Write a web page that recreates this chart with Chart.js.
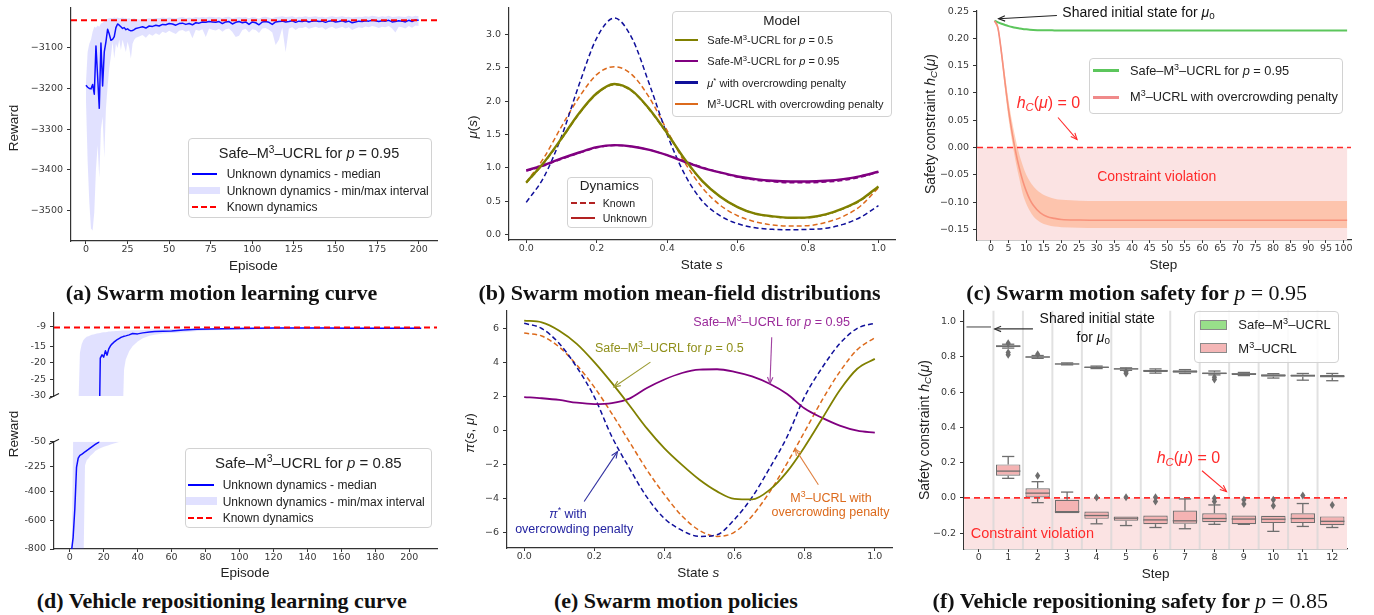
<!DOCTYPE html>
<html>
<head>
<meta charset="utf-8">
<script src="https://cdn.jsdelivr.net/npm/chart.js@4.4.1/dist/chart.umd.min.js"></script>
<style>
body { margin: 0; width: 1374px; height: 615px; background: #fff; position: relative; overflow: hidden; }
canvas { position: absolute; }
.t { position: absolute; white-space: nowrap; line-height: 1; font-family: 'Liberation Sans', Arial, sans-serif; color: #222; }
.t sup { font-size: 70%; line-height: 0; vertical-align: 0.5em; }
.t sub { font-size: 70%; line-height: 0; vertical-align: -0.25em; }
.cap { font-family: 'Liberation Serif', 'Times New Roman', serif; font-weight: bold; color: #111; }
.cap i { font-weight: normal; }
.box { position: absolute; border: 1px solid #d2d2d2; border-radius: 4px; background: rgba(255,255,255,0.85); box-sizing: border-box; }
.sw { position: absolute; }
</style>
</head>
<body>
<script>
// ---------- (a) swarm motion learning curve ----------
const episodesA = [0,1,2,3,4,5,6,7,8,9,10,11,12,13,14,15,16,17,18,19,20,21,22,23,24,25,26,27,28,29,30,
  32,34,36,38,40,42,44,46,48,50,52,54,56,58,60,62,64,66,68,70,72,74,76,78,80,82,84,86,88,90,92,94,96,98,100,
  102,104,106,108,110,112,114,116,118,120,122,124,126,128,130,132,134,136,138,140,142,144,146,148,150,
  152,154,156,158,160,162,164,166,168,170,172,174,176,178,180,182,184,186,188,190,192,194,196,198,200];
const medianA = [-3192,-3197,-3200,-3201,-3190,-3214,-3095,-3170,-3249,-3088,-3194,-3110,-3085,-3054,-3066,-3081,-3079,-3072,-3050,-3041,-3044,-3048,-3052,-3050,-3055,-3053,-3056,-3058,-3057,-3055,-3052,
  -3050,-3048,-3051,-3046,-3047,-3044,-3046,-3042,-3043,-3040,-3041,-3044,-3040,-3039,-3042,-3040,-3043,-3038,-3039,-3036,
  -3037,-3035,-3036,-3037,-3035,-3040,-3036,-3035,-3041,-3037,-3035,-3038,-3036,-3042,-3036,-3038,-3043,-3036,-3035,-3037,
  -3042,-3036,-3035,-3034,-3036,-3035,-3033,-3037,-3034,-3035,-3033,-3036,-3034,-3033,-3035,-3034,-3037,-3034,-3033,-3036,
  -3035,-3033,-3036,-3034,-3038,-3036,-3034,-3035,-3033,-3034,-3032,-3033,-3035,-3033,-3034,-3032,-3036,-3035,-3033,-3034,
  -3036,-3032,-3035,-3031,-3032];
const maxA = [-3185,-3110,-3090,-3080,-3060,-3048,-3050,-3045,-3048,-3040,-3038,-3034,-3030,-3028,-3027,-3026,-3027,-3025,-3026,-3025,-3027,-3026,-3025,-3027,-3026,-3028,-3027,-3029,-3028,-3027,-3029,
  -3030,-3028,-3029,-3027,-3028,-3026,-3027,-3025,-3026,-3025,-3026,-3027,-3025,-3024,-3026,-3025,-3026,-3024,-3025,-3024,
  -3025,-3023,-3024,-3025,-3024,-3026,-3024,-3023,-3027,-3025,-3024,-3025,-3024,-3027,-3024,-3025,-3028,-3024,-3023,-3025,
  -3027,-3024,-3023,-3022,-3024,-3023,-3022,-3025,-3023,-3024,-3022,-3024,-3023,-3022,-3024,-3023,-3025,-3023,-3022,-3024,
  -3023,-3022,-3024,-3023,-3025,-3024,-3023,-3024,-3022,-3023,-3021,-3022,-3024,-3022,-3023,-3021,-3024,-3023,-3022,-3023,
  -3024,-3021,-3023,-3021,-3022];
const minA = [-3230,-3380,-3480,-3545,-3550,-3505,-3400,-3340,-3420,-3300,-3270,-3370,-3250,-3196,-3150,-3120,-3085,-3126,-3090,-3100,-3080,-3105,-3080,-3095,-3110,-3085,-3100,-3126,-3090,-3080,-3075,
  -3072,-3068,-3075,-3066,-3070,-3064,-3068,-3060,-3063,-3058,-3062,-3066,-3058,-3056,-3060,-3057,-3076,-3055,-3058,-3054,
  -3073,-3052,-3055,-3057,-3053,-3060,-3054,-3052,-3061,-3073,-3070,-3056,-3053,-3062,-3054,-3056,-3063,-3052,-3051,-3055,
  -3062,-3093,-3080,-3050,-3110,-3052,-3049,-3056,-3050,-3051,-3048,-3053,-3050,-3048,-3051,-3049,-3055,-3050,-3048,-3053,
  -3051,-3048,-3052,-3049,-3056,-3052,-3049,-3051,-3047,-3049,-3046,-3048,-3051,-3048,-3049,-3046,-3052,-3062,-3048,-3049,
  -3052,-3046,-3050,-3045,-3046];
const knownA = -3032;
const ticksAX = [0,25,50,75,100,125,150,175,200];
const ticksAY = [-3500,-3400,-3300,-3200,-3100];

// ---------- (b) mean-field distributions ----------
const statesB = [0,0.05,0.1,0.15,0.2,0.25,0.3,0.35,0.4,0.45,0.5,0.55,0.6,0.65,0.7,0.75,0.8,0.85,0.9,0.95,1];
const safe05UnknownB = [0.78,1.08,1.44,1.82,2.12,2.26,2.16,1.88,1.52,1.13,0.80,0.57,0.41,0.31,0.27,0.25,0.255,0.30,0.39,0.52,0.72];
const safe05KnownB   = [0.77,1.07,1.43,1.81,2.11,2.25,2.15,1.87,1.51,1.12,0.80,0.57,0.41,0.31,0.265,0.245,0.25,0.295,0.385,0.51,0.71];
const safe095UnknownB = [0.96,1.04,1.14,1.23,1.31,1.34,1.32,1.27,1.19,1.09,1.00,0.93,0.87,0.83,0.805,0.795,0.795,0.805,0.83,0.875,0.94];
const safe095KnownB   = [0.95,1.03,1.13,1.22,1.30,1.335,1.32,1.27,1.19,1.10,1.01,0.93,0.86,0.815,0.79,0.775,0.775,0.785,0.81,0.86,0.935];
const muStarB = [0.48,0.86,1.47,2.25,2.95,3.25,2.95,2.25,1.50,0.90,0.50,0.28,0.16,0.10,0.075,0.068,0.075,0.09,0.15,0.26,0.43];
const m3ucrlB = [0.78,1.15,1.62,2.06,2.40,2.52,2.40,2.05,1.56,1.08,0.70,0.44,0.28,0.19,0.14,0.125,0.13,0.18,0.27,0.43,0.70];
const ticksBX = [0,0.2,0.4,0.6,0.8,1.0];
const ticksBY = [0,0.5,1.0,1.5,2.0,2.5,3.0];

// ---------- (c) swarm motion safety ----------
const stepsC = [1,2,3,4,5,6,7,8,9,10,11,12,14,16,18,20,25,30,40,60,80,101];
const safeC = [0.2325,0.2295,0.2268,0.2245,0.2225,0.2208,0.2194,0.2183,0.2173,0.2166,0.216,0.2156,0.215,0.2148,0.2147,0.2146,0.2145,0.2145,0.2145,0.2145,0.2145,0.2145];
const m3C = [0.232,0.218,0.172,0.118,0.068,0.027,-0.008,-0.037,-0.061,-0.080,-0.095,-0.106,-0.120,-0.127,-0.130,-0.132,-0.133,-0.1335,-0.1335,-0.1335,-0.1335,-0.1335];
const m3HiC = [0.233,0.224,0.182,0.132,0.085,0.047,0.015,-0.012,-0.033,-0.050,-0.062,-0.071,-0.083,-0.090,-0.094,-0.096,-0.0975,-0.098,-0.098,-0.098,-0.098,-0.098];
const m3LoC = [0.231,0.212,0.162,0.104,0.052,0.010,-0.026,-0.056,-0.085,-0.103,-0.116,-0.126,-0.137,-0.142,-0.145,-0.146,-0.147,-0.1475,-0.1475,-0.1475,-0.1475,-0.1475];
const ticksCX = [0,5,10,15,20,25,30,35,40,45,50,55,60,65,70,75,80,85,90,95,100];
const ticksCY = [-0.15,-0.10,-0.05,0,0.05,0.10,0.15,0.20,0.25];

// ---------- (d) vehicle repositioning learning curve ----------
const episodesD = [0,1,2,3,4,5,6,7,8,9,10,11,12,13,14,15,16,17,18,19,20,21,22,23,24,25,26,27,28,
  30,31,32,33,35,37,40,43,47,50,55,60,67,75,83,90,100,110,120,135,150,165,180,195,207];
const medianD = [-1000,-820,-720,-520,-230,-165,-145,-138,-130,-120,-112,-104,-95,-86,-77,-69,-61,-54,-18.6,-17.6,-18.3,-16.4,-17.7,-15.8,-14.9,-14.3,-13.8,-13.4,-13.0,
  -12.4,-12.2,-12.0,-11.9,-11.6,-11.2,-11.3,-11.0,-10.7,-10.6,-10.5,-10.4,-10.1,-9.9,-9.8,-9.75,-9.65,-9.6,-9.55,-9.55,-9.55,-9.6,-9.6,-9.6,-9.6];
const maxD = [-1100,-1000,-45,-42,-38,-35,-17,-14.5,-13.2,-12.6,-12.2,-12.0,-11.8,-11.6,-11.5,-11.3,-11.2,-11.1,-11.0,-10.9,-10.8,-10.8,-10.7,-10.6,-10.6,-10.5,-10.5,-10.4,-10.4,
  -10.35,-10.3,-10.3,-10.3,-10.25,-10.2,-10.2,-10.1,-10.0,-10.0,-9.9,-9.85,-9.75,-9.7,-9.65,-9.6,-9.5,-9.5,-9.45,-9.45,-9.4,-9.4,-9.4,-9.4,-9.4];
const minD = [-2000,-2000,-2000,-2000,-2000,-2000,-1800,-1500,-1000,-216,-180,-168,-150,-140,-128,-115,-108,-100,-95,-90,-85,-82,-78,-75,-70,-66,-62,-58,-55,
  -48,-40,-22,-19,-16.5,-15,-13.6,-12.6,-11.9,-11.6,-11.2,-11.0,-10.8,-10.4,-10.2,-10.1,-10.0,-9.9,-9.8,-9.75,-9.7,-9.7,-9.65,-9.65,-9.6];
const knownD = -9.4;
const ticksDX = [0,20,40,60,80,100,120,140,160,180,200];
const ticksDYtop = [-30,-25,-20,-15,-9];
const ticksDYbottom = [-800,-600,-400,-225,-50];

// ---------- (e) swarm motion policies ----------
const statesE = [0,0.05,0.1,0.15,0.2,0.25,0.3,0.35,0.4,0.45,0.5,0.55,0.6,0.65,0.7,0.75,0.8,0.85,0.9,0.95,1];
const safe05E = [6.45,6.35,5.86,5.09,4.02,2.80,1.49,0.13,-1.04,-2.01,-2.88,-3.56,-4.0,-4.03,-3.47,-2.40,-0.94,0.71,2.37,3.63,4.21];
const safe095E = [1.97,1.90,1.80,1.64,1.56,1.62,1.88,2.50,3.00,3.38,3.58,3.60,3.45,3.18,2.75,2.15,1.30,0.75,0.30,0.00,-0.12];
const piStarE = [6.30,5.99,5.11,3.72,1.98,-0.35,-2.20,-3.90,-5.15,-5.85,-6.20,-6.10,-5.20,-3.90,-2.20,-0.35,2.00,3.70,5.10,6.00,6.30];
const m3ucrlE = [5.72,5.55,4.90,3.85,2.55,1.00,-0.65,-2.30,-3.75,-5.00,-5.85,-6.20,-5.95,-5.00,-3.60,-1.90,-0.05,1.80,3.45,4.75,5.45];
const ticksEX = [0,0.2,0.4,0.6,0.8,1.0];
const ticksEY = [-6,-4,-2,0,2,4,6];

// ---------- (f) vehicle repositioning safety (box plots) ----------
const stepsF = [0,1,2,3,4,5,6,7,8,9,10,11,12];
const safeLoF  = [0.970,0.850,0.792,0.755,0.734,0.724,0.708,0.706,0.698,0.694,0.680,0.668,0.665];
const safeQ1F  = [0.970,0.855,0.796,0.757,0.737,0.728,0.714,0.710,0.702,0.698,0.688,0.687,0.683];
const safeMedF = [0.970,0.861,0.799,0.760,0.741,0.732,0.721,0.717,0.707,0.704,0.695,0.694,0.690];
const safeQ3F  = [0.970,0.866,0.804,0.763,0.745,0.735,0.727,0.724,0.712,0.708,0.701,0.700,0.697];
const safeHiF  = [0.970,0.872,0.808,0.766,0.748,0.738,0.732,0.728,0.720,0.712,0.705,0.706,0.706];
const safeOutF = [[],[0.825,0.812,0.878],[0.815],[],[],[0.716,0.706],[],[],[0.684,0.672],[],[],[],[]];
const m3LoF  = [null,0.111,-0.027,-0.087,-0.147,-0.157,-0.168,-0.175,-0.150,-0.150,-0.190,-0.162,-0.168];
const m3Q1F  = [null,0.126,0.002,-0.087,-0.119,-0.130,-0.149,-0.147,-0.138,-0.149,-0.143,-0.143,-0.155];
const m3MedF = [null,0.152,0.027,-0.078,-0.100,-0.115,-0.125,-0.130,-0.117,-0.120,-0.121,-0.117,-0.133];
const m3Q3F  = [null,0.190,0.055,-0.011,-0.077,-0.105,-0.100,-0.072,-0.087,-0.100,-0.102,-0.087,-0.105];
const m3HiF  = [null,0.235,0.092,0.033,-0.077,-0.105,-0.100,-0.006,-0.040,-0.100,-0.102,-0.032,-0.105];
const m3OutF = [[],[],[0.126],[],[0.002],[0.004],[0.004,-0.02],[],[-0.002,-0.02],[-0.011,-0.034],[-0.01,-0.045],[0.013],[-0.04]];
const ticksFY = [-0.2,0,0.2,0.4,0.6,0.8,1.0];

// ---------- helpers ----------
const AX = '#333';
const TK = '#3a3a3a';
const tickFont = { family: 'DejaVu Sans', size: 9.5, lineHeight: 1 };
const uMinus = (v, d) => (v < 0 ? '\u2212' : '') + Math.abs(v).toFixed(d);

function axis(min, max, ticks, fmt, isX, extra) {
  return Object.assign({
    type: 'linear', min, max, bounds: 'data',
    afterBuildTicks: s => { s.ticks = ticks.map(v => ({ value: v })); },
    afterFit: s => { if (isX) s.height = 24; else s.width = 60; },
    grid: { drawOnChartArea: false, tickLength: isX ? 3 : 4, color: AX },
    border: { color: AX, width: 1.2 },
    ticks: { callback: fmt, autoSkip: false, maxRotation: 0, padding: isX ? 1 : 4, color: TK, font: tickFont }
  }, extra || {});
}

function pts(xs, ys) {
  return xs.map((x, i) => ({ x, y: ys[i] }));
}

function makeChart(L, T, R, B, cfg, noX) {
  const YW = 60, XH = noX ? 0 : 24, PT = 8, PR = 14, PB = noX ? 1 : 0;
  const left = Math.round(L) - YW, top = Math.round(T) - PT;
  const w = Math.round(R) - Math.round(L) + YW + PR;
  const h = Math.round(B) - Math.round(T) + PT + XH + PB;
  const c = document.createElement('canvas');
  c.width = w; c.height = h;
  c.style.left = left + 'px'; c.style.top = top + 'px';
  c.style.width = w + 'px'; c.style.height = h + 'px';
  document.body.appendChild(c);
  cfg.options = Object.assign({
    responsive: false, animation: false, devicePixelRatio: 1,
    layout: { padding: { top: PT, right: PR, left: 0, bottom: PB } },
    elements: { point: { radius: 0 }, line: { borderJoinStyle: 'round' } }
  }, cfg.options);
  cfg.options.plugins = Object.assign({ legend: { display: false }, tooltip: { enabled: false } }, cfg.options.plugins || {});
  return new Chart(c, cfg);
}

// horizontal reference line (+ optional shaded violation region)
const refLine = {
  id: 'refLine',
  beforeDatasetsDraw(chart, args, o) {
    if (!o.shade) return;
    const { ctx, chartArea: a, scales: { x, y } } = chart;
    const yv = y.getPixelForValue(o.value);
    const xe = o.shadeTo === undefined ? a.right : x.getPixelForValue(o.shadeTo);
    ctx.save();
    ctx.fillStyle = o.shade;
    ctx.fillRect(a.left, yv, xe - a.left, a.bottom - yv);
    ctx.restore();
  },
  afterDatasetsDraw(chart, args, o) {
    if (o.value === undefined) return;
    const { ctx, chartArea: a, scales: { y } } = chart;
    const yv = y.getPixelForValue(o.value);
    ctx.save();
    ctx.strokeStyle = o.color; ctx.lineWidth = o.width; ctx.setLineDash(o.dash);
    ctx.beginPath(); ctx.moveTo(a.left, yv); ctx.lineTo(a.right, yv); ctx.stroke();
    ctx.restore();
  }
};

// annotation arrows, given in data coordinates
const arrows = {
  id: 'arrows',
  afterDatasetsDraw(chart, args, o) {
    const { ctx, scales: { x, y } } = chart;
    (o.list || []).forEach(ar => {
      const x1 = x.getPixelForValue(ar.from[0]), y1 = y.getPixelForValue(ar.from[1]);
      const x2 = x.getPixelForValue(ar.to[0]), y2 = y.getPixelForValue(ar.to[1]);
      const ang = Math.atan2(y2 - y1, x2 - x1), hl = 7;
      ctx.save();
      ctx.strokeStyle = ar.color; ctx.lineWidth = 1.1;
      ctx.beginPath(); ctx.moveTo(x1, y1); ctx.lineTo(x2, y2); ctx.stroke();
      ctx.beginPath();
      ctx.moveTo(x2 - hl * Math.cos(ang - 0.4), y2 - hl * Math.sin(ang - 0.4));
      ctx.lineTo(x2, y2);
      ctx.lineTo(x2 - hl * Math.cos(ang + 0.4), y2 - hl * Math.sin(ang + 0.4));
      ctx.stroke();
      ctx.restore();
    });
  }
};

// little diagonal marks for the broken y axis
const breakMark = {
  id: 'breakMark',
  afterDraw(chart, args, o) {
    if (!o.at) return;
    const { ctx, chartArea: a } = chart;
    const yb = o.at === 'bottom' ? a.bottom : a.top;
    ctx.save();
    ctx.strokeStyle = '#222'; ctx.lineWidth = 1.2;
    ctx.beginPath(); ctx.moveTo(a.left - 5, yb + 2.5); ctx.lineTo(a.left + 5, yb - 2.5); ctx.stroke();
    ctx.restore();
  }
};

// light separators between box-plot categories
const seps = {
  id: 'seps',
  beforeDatasetsDraw(chart) {
    const { ctx, chartArea: a, scales: { x } } = chart;
    ctx.save();
    ctx.strokeStyle = 'rgba(215,215,215,0.75)'; ctx.lineWidth = 2;
    for (let i = 0; i < stepsF.length - 1; i++) {
      const px = (x.getPixelForValue(i) + x.getPixelForValue(i + 1)) / 2;
      ctx.beginPath(); ctx.moveTo(px, a.top); ctx.lineTo(px, a.bottom); ctx.stroke();
    }
    ctx.restore();
  }
};

// whiskers, medians and outliers on top of the floating bars
const EDGE = '#6e6e6e';
const boxes = {
  id: 'boxes',
  afterDatasetsDraw(chart, args, o) {
    const { ctx, scales: { x, y } } = chart;
    const bw = (x.getPixelForValue(1) - x.getPixelForValue(0)) * 0.83;
    const line = (x1, y1, x2, y2) => { ctx.beginPath(); ctx.moveTo(x1, y1); ctx.lineTo(x2, y2); ctx.stroke(); };
    ctx.save();
    ctx.strokeStyle = EDGE; ctx.fillStyle = EDGE; ctx.lineWidth = 1.3;
    o.series.forEach(s => {
      s.med.forEach((m, i) => {
        if (m === null) return;
        const cx = x.getPixelForValue(i);
        const yq1 = y.getPixelForValue(s.q1[i]), yq3 = y.getPixelForValue(s.q3[i]);
        const ylo = y.getPixelForValue(s.lo[i]), yhi = y.getPixelForValue(s.hi[i]);
        const ym = y.getPixelForValue(m);
        if (yhi < yq3) { line(cx, yq3, cx, yhi); line(cx - bw / 4, yhi, cx + bw / 4, yhi); }
        if (ylo > yq1) { line(cx, yq1, cx, ylo); line(cx - bw / 4, ylo, cx + bw / 4, ylo); }
        line(cx - bw / 2, ym, cx + bw / 2, ym);
        s.out[i].forEach(v => {
          const py = y.getPixelForValue(v);
          ctx.beginPath();
          ctx.moveTo(cx, py - 4); ctx.lineTo(cx + 2.6, py); ctx.lineTo(cx, py + 4); ctx.lineTo(cx - 2.6, py);
          ctx.closePath(); ctx.fill();
        });
      });
    });
    ctx.restore();
  }
};

// html text helpers
function txt(html, x, y, size, o) {
  o = o || {};
  const d = document.createElement('div');
  d.className = 't' + (o.cls ? ' ' + o.cls : '');
  d.innerHTML = html;
  d.style.left = x + 'px';
  d.style.top = y + 'px';
  d.style.fontSize = size + 'px';
  if (o.color) d.style.color = o.color;
  const ax = o.align === 'l' ? '0' : '-50%';
  d.style.transform = 'translate(' + ax + ',-50%)' + (o.rot ? ' rotate(-90deg)' : '');
  document.body.appendChild(d);
}
function legendBox(x1, y1, x2, y2) {
  const d = document.createElement('div');
  d.className = 'box';
  d.style.cssText += `left:${x1}px;top:${y1}px;width:${x2 - x1}px;height:${y2 - y1}px;`;
  document.body.appendChild(d);
}
function swLine(x1, x2, y, color, w, dashed) {
  const d = document.createElement('div');
  d.className = 'sw';
  const bg = dashed ? `repeating-linear-gradient(90deg, ${color} 0 6px, transparent 6px 9px)` : color;
  d.style.cssText += `left:${x1}px;top:${y - w / 2}px;width:${x2 - x1}px;height:${w}px;background:${bg};`;
  document.body.appendChild(d);
}
function swRect(x1, y1, x2, y2, color, border) {
  const d = document.createElement('div');
  d.className = 'sw';
  d.style.cssText += `left:${x1}px;top:${y1}px;width:${x2 - x1}px;height:${y2 - y1}px;background:${color};box-sizing:border-box;` + (border ? `border:1px solid ${border};` : '');
  document.body.appendChild(d);
}

const BLUE = '#0000ff', KNOWN = '#ff0000', BAND = 'rgba(80,80,255,0.17)';
const OLIVE = '#808000', PURPLE = '#800080', NAVY = '#10109a', ORANGE = '#dc6a1c';
const VIOL = '#fbe3e3', HRED = '#ff2a2a';

// ---------- (a) ----------
makeChart(70.7, 7, 437, 241, {
  type: 'line',
  data: { datasets: [
    { data: pts(episodesA, maxA), borderColor: 'transparent', borderWidth: 0, backgroundColor: BAND, fill: '+1' },
    { data: pts(episodesA, minA), borderColor: 'transparent', borderWidth: 0, fill: false },
    { data: pts(episodesA, medianA), borderColor: BLUE, borderWidth: 1.5, fill: false }
  ] },
  options: {
    scales: {
      x: axis(-9, 211, ticksAX, v => String(v), true),
      y: axis(-3576, -3001, ticksAY, v => uMinus(v, 0), false)
    },
    plugins: { refLine: { value: knownA, color: KNOWN, width: 2, dash: [6, 4] } }
  },
  plugins: [refLine]
});

// ---------- (b) ----------
const lineB = (ys, color, dashed, w) => ({
  data: pts(statesB, ys), borderColor: color, borderWidth: w, fill: false,
  borderDash: dashed ? [5, 3] : [], cubicInterpolationMode: 'monotone'
});
makeChart(509.3, 7.3, 895, 240, {
  type: 'line',
  data: { datasets: [
    lineB(safe05UnknownB, OLIVE, false, 2.4),
    lineB(safe095UnknownB, PURPLE, false, 2.4),
    lineB(safe05KnownB, OLIVE, true, 1.5),
    lineB(safe095KnownB, PURPLE, true, 1.5),
    lineB(muStarB, NAVY, true, 1.5),
    lineB(m3ucrlB, ORANGE, true, 1.5)
  ] },
  options: {
    scales: {
      x: axis(-0.049, 1.047, ticksBX, v => v.toFixed(1), true),
      y: axis(-0.085, 3.405, ticksBY, v => v.toFixed(1), false)
    }
  }
});

// ---------- (c) ----------
makeChart(976.7, 10, 1351, 240, {
  type: 'line',
  data: { datasets: [
    { data: pts(stepsC, m3HiC), borderColor: 'transparent', borderWidth: 0, backgroundColor: 'rgba(255,165,120,0.5)', fill: '+1', cubicInterpolationMode: 'monotone' },
    { data: pts(stepsC, m3LoC), borderColor: 'transparent', borderWidth: 0, fill: false, cubicInterpolationMode: 'monotone' },
    { data: pts(stepsC, m3C), borderColor: '#f07f7f', borderWidth: 1.6, fill: false, cubicInterpolationMode: 'monotone' },
    { data: pts(stepsC, safeC), borderColor: '#5cc65c', borderWidth: 2, fill: false, cubicInterpolationMode: 'monotone' }
  ] },
  options: {
    scales: {
      x: axis(-3.97, 102.1, ticksCX, v => String(v), true),
      y: axis(-0.1696, 0.2507, ticksCY, v => uMinus(v, 2), false)
    },
    plugins: {
      refLine: { value: 0, color: HRED, width: 1.6, dash: [6, 4], shade: VIOL, shadeTo: stepsC[stepsC.length - 1] },
      arrows: { list: [
        { from: [18.7, 0.242], to: [2.15, 0.236], color: '#222' },
        { from: [19, 0.055], to: [24.4, 0.0146], color: HRED }
      ] }
    }
  },
  plugins: [refLine, arrows]
});

// ---------- (d) upper and lower parts of the broken axis ----------
const dsD = () => [
  { data: pts(episodesD, maxD), borderColor: 'transparent', borderWidth: 0, backgroundColor: BAND, fill: '+1' },
  { data: pts(episodesD, minD), borderColor: 'transparent', borderWidth: 0, fill: false },
  { data: pts(episodesD, medianD), borderColor: BLUE, borderWidth: 1.5, fill: false }
];
const fmtD = v => String(v);
makeChart(54.3, 311.7, 436.7, 420, {
  type: 'line',
  data: { datasets: dsD() },
  options: {
    scales: {
      x: axis(-9.26, 216.3, ticksDX, fmtD, true, { display: false }),
      y: axis(-30, -4.94, ticksDYtop, fmtD, false)
    },
    plugins: {
      refLine: { value: knownD, color: KNOWN, width: 2, dash: [6, 4] },
      breakMark: { at: 'bottom' }
    }
  },
  plugins: [refLine, breakMark]
}, true);
makeChart(54.3, 441, 436.7, 549.3, {
  type: 'line',
  data: { datasets: dsD() },
  options: {
    scales: {
      x: axis(-9.26, 216.3, ticksDX, fmtD, true),
      y: axis(-800, -50, ticksDYbottom, fmtD, false)
    },
    plugins: { breakMark: { at: 'top' } }
  },
  plugins: [breakMark]
});

// ---------- (e) ----------
const lineE = (ys, color, dashed) => ({
  data: pts(statesE, ys), borderColor: color, borderWidth: dashed ? 1.5 : 1.8, fill: false,
  borderDash: dashed ? [5, 3] : [], cubicInterpolationMode: 'monotone'
});
makeChart(506.7, 310, 892, 548.3, {
  type: 'line',
  data: { datasets: [
    lineE(safe05E, OLIVE, false),
    lineE(safe095E, PURPLE, false),
    lineE(piStarE, NAVY, true),
    lineE(m3ucrlE, ORANGE, true)
  ] },
  options: {
    scales: {
      x: axis(-0.049, 1.049, ticksEX, v => v.toFixed(1), true),
      y: axis(-6.88, 7.03, ticksEY, v => uMinus(v, 0), false)
    },
    plugins: {
      arrows: { list: [
        { from: [0.706, 5.48], to: [0.701, 2.76], color: '#a040a0' },
        { from: [0.360, 4.02], to: [0.256, 2.56], color: '#9a9a30' },
        { from: [0.171, -4.15], to: [0.266, -1.23], color: '#3030a0' },
        { from: [0.839, -3.17], to: [0.773, -1.07], color: '#e08040' }
      ] }
    }
  },
  plugins: [arrows]
});

// ---------- (f) ----------
makeChart(964.3, 310, 1346.7, 549.3, {
  type: 'bar',
  data: {
    labels: stepsF,
    datasets: [
      { data: safeQ1F.map((q, i) => (q === safeQ3F[i] ? null : [q, safeQ3F[i]])), backgroundColor: '#8fd68f', borderColor: EDGE, borderWidth: 1.2, borderSkipped: false, barPercentage: 0.83, categoryPercentage: 1, grouped: false },
      { data: m3Q1F.map((q, i) => (q === null ? null : [q, m3Q3F[i]])), backgroundColor: '#f4b3b3', borderColor: EDGE, borderWidth: 1.2, borderSkipped: false, barPercentage: 0.83, categoryPercentage: 1, grouped: false }
    ]
  },
  options: {
    scales: {
      x: {
        type: 'category', offset: true,
        afterFit: s => { s.height = 24; },
        grid: { drawOnChartArea: false, offset: false, tickLength: 3, color: AX },
        border: { color: AX, width: 1.2 },
        ticks: { autoSkip: false, maxRotation: 0, padding: 1, color: TK, font: tickFont }
      },
      y: axis(-0.29, 1.062, ticksFY, v => uMinus(v, 1), false)
    },
    plugins: {
      refLine: { value: 0, color: HRED, width: 1.6, dash: [6, 4], shade: VIOL },
      boxes: { series: [
        { lo: safeLoF, q1: safeQ1F, med: safeMedF, q3: safeQ3F, hi: safeHiF, out: safeOutF },
        { lo: m3LoF, q1: m3Q1F, med: m3MedF, q3: m3Q3F, hi: m3HiF, out: m3OutF }
      ] },
      arrows: { list: [
        { from: [1.84, 0.959], to: [0.54, 0.959], color: '#333' },
        { from: [7.58, 0.154], to: [8.41, 0.036], color: HRED }
      ] }
    }
  },
  plugins: [refLine, seps, boxes, arrows]
});

// ---------- axis titles ----------
const TS = 13.5;
txt('Reward', 13.8, 128.3, TS, { rot: true });
txt('Episode', 253.3, 266, TS);
txt('<i>μ</i>(<i>s</i>)', 473.3, 126.7, TS, { rot: true });
txt('State <i>s</i>', 701.7, 265, TS);
txt('Safety constraint <i>h</i><sub><i>C</i></sub>(<i>μ</i>)', 930, 124.2, 14, { rot: true });
txt('Step', 1163.3, 265, TS);
txt('Reward', 13.8, 434.2, TS, { rot: true });
txt('Episode', 245, 573.3, TS);
txt('<i>π</i>(<i>s</i>, <i>μ</i>)', 470, 432.5, TS, { rot: true });
txt('State <i>s</i>', 698.3, 573.3, TS);
txt('Safety constraint <i>h</i><sub><i>C</i></sub>(<i>μ</i>)', 924, 430, 14, { rot: true });
txt('Step', 1155.7, 574, TS);

// ---------- legends ----------
// (a)
legendBox(187.7, 137.7, 431.7, 218.3);
txt('Safe–M<sup>3</sup>–UCRL for <i>p</i> = 0.95', 309, 152.7, 14.5);
swLine(191.7, 216.7, 174.3, BLUE, 2);
swRect(188.5, 186.7, 220, 194, BAND);
swLine(191.7, 216.7, 207.3, KNOWN, 2, true);
txt('Unknown dynamics - median', 226.7, 174.3, 12, { align: 'l' });
txt('Unknown dynamics - min/max interval', 226.7, 191, 12, { align: 'l' });
txt('Known dynamics', 226.7, 207.3, 12, { align: 'l' });
// (b) model
legendBox(672, 10.7, 892.3, 116.7);
txt('Model', 781.7, 20.7, 13.5);
swLine(675, 698.3, 40, OLIVE, 2.5);
swLine(675, 698.3, 61, PURPLE, 2.5);
swLine(675, 698.3, 82.7, NAVY, 2.5);
swLine(675, 698.3, 104, ORANGE, 2.5);
txt('Safe-M<sup>3</sup>-UCRL for <i>p</i> = 0.5', 707.3, 40, 11, { align: 'l' });
txt('Safe-M<sup>3</sup>-UCRL for <i>p</i> = 0.95', 707.3, 61, 11, { align: 'l' });
txt('<i>μ</i><sup>*</sup> with overcrowding penalty', 707.3, 82.7, 11, { align: 'l' });
txt('M<sup>3</sup>-UCRL with overcrowding penalty', 707.3, 104, 11, { align: 'l' });
// (b) dynamics
legendBox(567.3, 176.7, 652.7, 228.3);
txt('Dynamics', 609.3, 185.7, 13.5);
swLine(571, 595, 203, '#b22222', 2, true);
swLine(571, 595, 218.3, '#b22222', 2);
txt('Known', 602.7, 203, 10.6, { align: 'l' });
txt('Unknown', 602.7, 218.3, 10.6, { align: 'l' });
// (c)
legendBox(1088.7, 58.3, 1343.3, 114);
swLine(1092.7, 1119.3, 70.7, '#5cc65c', 2.5);
swLine(1092.7, 1119.3, 97.3, '#f08a8a', 2.5);
txt('Safe–M<sup>3</sup>–UCRL for <i>p</i> = 0.95', 1130, 70.7, 12.8, { align: 'l' });
txt('M<sup>3</sup>–UCRL with overcrowding penalty', 1130, 97.3, 12.8, { align: 'l' });
// (d)
legendBox(185, 447.7, 432.3, 527.7);
txt('Safe–M<sup>3</sup>–UCRL for <i>p</i> = 0.85', 308.3, 462.3, 15);
swLine(188.3, 214, 485, BLUE, 2);
swRect(185.5, 497.3, 217.3, 505, BAND);
swLine(188.3, 214, 517.7, KNOWN, 2, true);
txt('Unknown dynamics - median', 222.7, 485, 12, { align: 'l' });
txt('Unknown dynamics - min/max interval', 222.7, 501.7, 12, { align: 'l' });
txt('Known dynamics', 222.7, 517.7, 12, { align: 'l' });
// (f)
legendBox(1194.3, 310.7, 1339, 362.7);
swRect(1200, 319.5, 1226.7, 329.5, '#98df8a', '#8a8a8a');
swRect(1200, 343, 1226.7, 353, '#f4b6b6', '#8a8a8a');
txt('Safe–M<sup>3</sup>–UCRL', 1238.3, 324.3, 13, { align: 'l' });
txt('M<sup>3</sup>–UCRL', 1238.3, 347.7, 13, { align: 'l' });

// ---------- annotations ----------
txt('Shared initial state for <i>μ</i><sub>0</sub>', 1062.3, 11.7, 14, { align: 'l', color: '#111' });
txt('<i>h</i><sub><i>C</i></sub>(<i>μ</i>) = 0', 1016.7, 103.3, 16, { align: 'l', color: HRED });
txt('Constraint violation', 1156.7, 175.7, 14, { color: HRED });

txt('Safe–M<sup>3</sup>–UCRL for <i>p</i> = 0.95', 693.3, 322.3, 12.6, { align: 'l', color: '#9a2a9a' });
txt('Safe–M<sup>3</sup>–UCRL for <i>p</i> = 0.5', 595, 348.3, 12.5, { align: 'l', color: '#8f8f1a' });
txt('<i>π</i><sup>*</sup> with', 568, 514.3, 12.5, { color: '#2323a0' });
txt('overcrowding penalty', 574.2, 529, 12.5, { color: '#2323a0' });
txt('M<sup>3</sup>–UCRL with', 831, 498.3, 12.5, { color: ORANGE });
txt('overcrowding penalty', 830.5, 512.3, 12.5, { color: ORANGE });

txt('Shared initial state', 1097.2, 318.3, 14, { color: '#111' });
txt('for <i>μ</i><sub>0</sub>', 1093.3, 337.3, 14, { color: '#111' });
txt('<i>h</i><sub><i>C</i></sub>(<i>μ</i>) = 0', 1156.7, 457.7, 16, { align: 'l', color: HRED });
txt('Constraint violation', 970.7, 532.7, 14.5, { align: 'l', color: HRED });

// ---------- captions ----------
txt('(a) Swarm motion learning curve', 221.5, 293, 22, { cls: 'cap' });
txt('(b) Swarm motion mean-field distributions', 679.5, 293, 22, { cls: 'cap' });
txt('(c) Swarm motion safety for <i>p</i><span style="font-weight:normal"> = 0.95</span>', 1136.7, 293, 22, { cls: 'cap' });
txt('(d) Vehicle repositioning learning curve', 221.7, 601, 22, { cls: 'cap' });
txt('(e) Swarm motion policies', 675.8, 601, 22, { cls: 'cap' });
txt('(f) Vehicle repositioning safety for <i>p</i><span style="font-weight:normal"> = 0.85</span>', 1130.3, 601, 22, { cls: 'cap' });
</script>
</body>
</html>
